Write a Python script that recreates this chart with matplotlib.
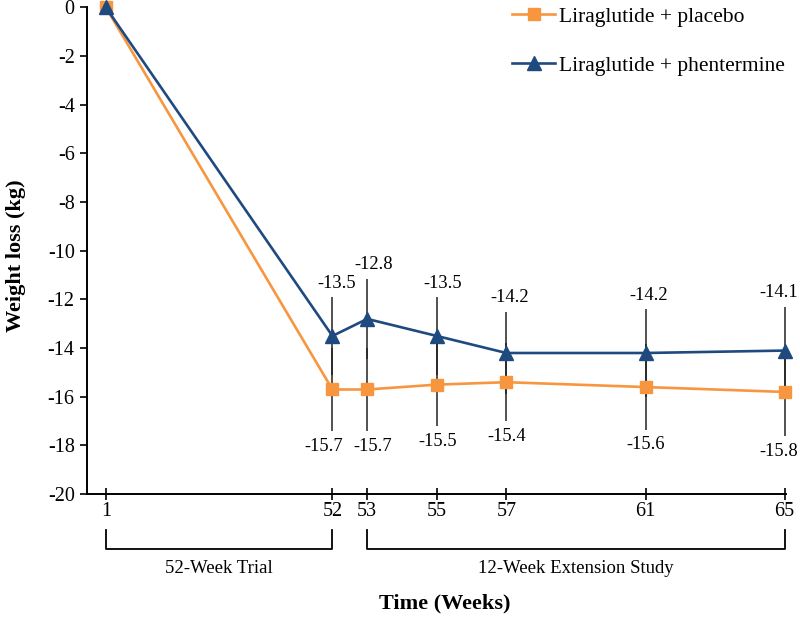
import numpy as np
import matplotlib
matplotlib.use('Agg')
import matplotlib.pyplot as plt
from matplotlib import transforms

plt.rcParams['font.family'] = ['Liberation Serif', 'DejaVu Serif']
plt.rcParams['axes.unicode_minus'] = False

weeks = [1, 52, 53, 55, 57, 61, 65]
placebo = [0, -15.7, -15.7, -15.5, -15.4, -15.6, -15.8]
phentermine = [0, -13.5, -12.8, -13.5, -14.2, -14.2, -14.1]
placebo_err = [0, 1.7, 1.7, 1.7, 1.6, 1.75, 1.8]
phentermine_err = [0, 1.6, 1.65, 1.6, 1.7, 1.8, 1.8]
yticks = list(range(-20, 1, 2))
periods = [(1, 52, '52-Week Trial'), (53, 65, '12-Week Extension Study')]

orange = '#F7963F'
blue = '#1F4A80'

# broken time axis: first 51 weeks squeezed
A = 0.1277
def fwd(x):
    x = np.asarray(x, dtype=float)
    return np.where(x <= 52, (x - 1) * A, 51 * A + (x - 52))

def inv(u):
    u = np.asarray(u, dtype=float)
    return np.where(u <= 51 * A, u / A + 1, u - 51 * A + 52)

fig = plt.figure(figsize=(8, 6.2), dpi=100)
ax = fig.add_axes([0.109, 0.203, 0.874, 0.785])
ax.set_xscale('function', functions=(fwd, inv))

ax.errorbar(weeks, placebo, yerr=placebo_err, fmt='none', ecolor='#222222', elinewidth=1.1, capsize=0, zorder=1)
ax.errorbar(weeks, phentermine, yerr=phentermine_err, fmt='none', ecolor='#222222', elinewidth=1.1, capsize=0, zorder=1)

ax.plot(weeks, placebo, color=orange, lw=1.9, marker='s', ms=8.5, mec=orange, mfc=orange,
        label='Liraglutide + placebo', zorder=3, clip_on=False)
ax.plot(weeks, phentermine, color=blue, lw=1.9, marker='^', ms=10, mec=blue, mfc=blue,
        label='Liraglutide + phentermine', zorder=4, clip_on=False)

# data labels at error bar ends, small sideways nudges like the original
top_dx = [0, 3, 5, 4, 2, 2, -4.5]
bot_dx = [0, -6, 4, 1, 0, 0, -4.5]
for i in range(1, len(weeks)):
    ax.annotate('%.1f' % phentermine[i], (weeks[i], phentermine[i] + phentermine_err[i]),
                xytext=(top_dx[i], 10), textcoords='offset points', ha='center', va='center', fontsize=13.3)
    ax.annotate('%.1f' % placebo[i], (weeks[i], placebo[i] - placebo_err[i]),
                xytext=(bot_dx[i], -11), textcoords='offset points', ha='center', va='center', fontsize=13.3)

ax.set_xlim(-3.2, 65.05)
ax.set_ylim(-20, 0)
ax.set_xticks(weeks)
ax.set_xticklabels([str(w) for w in weeks])
ax.set_yticks(yticks)
ax.set_yticklabels([str(t) for t in yticks])
ax.minorticks_off()

for s in ['top', 'right']:
    ax.spines[s].set_visible(False)
for s in ['left', 'bottom']:
    ax.spines[s].set_linewidth(1.4)
ax.tick_params(axis='x', direction='inout', length=9, width=1.2, labelsize=14.5, pad=1)
ax.tick_params(axis='y', direction='out', length=5, width=1.2, labelsize=14.5, pad=4)

ax.set_ylabel('Weight loss (kg)', fontsize=16, fontweight='bold')
ax.yaxis.set_label_coords(-0.088, 0.49)
ax.set_xlabel('Time (Weeks)', fontsize=16, fontweight='bold')
ax.xaxis.set_label_coords(0.511, -0.205)

# brackets under the axis
trans = transforms.blended_transform_factory(ax.transData, ax.transAxes)
for x0, x1, txt in periods:
    ax.plot([x0, x0, x1, x1], [-0.074, -0.113, -0.113, -0.074], color='black', lw=1.3,
            transform=trans, clip_on=False, solid_joinstyle='round')
    xm = inv((fwd(x0) + fwd(x1)) / 2)
    ax.text(float(xm), -0.152, txt, transform=trans, ha='center', va='center', fontsize=13.5)

ax.legend(loc='upper left', bbox_to_anchor=(0.632, 1.0), bbox_transform=fig.transFigure,
          frameon=False, fontsize=15.5, handlelength=2.0, handletextpad=0.2, labelspacing=1.35,
          borderpad=0.3, borderaxespad=0)

fig.savefig('out.png', dpi=100)
